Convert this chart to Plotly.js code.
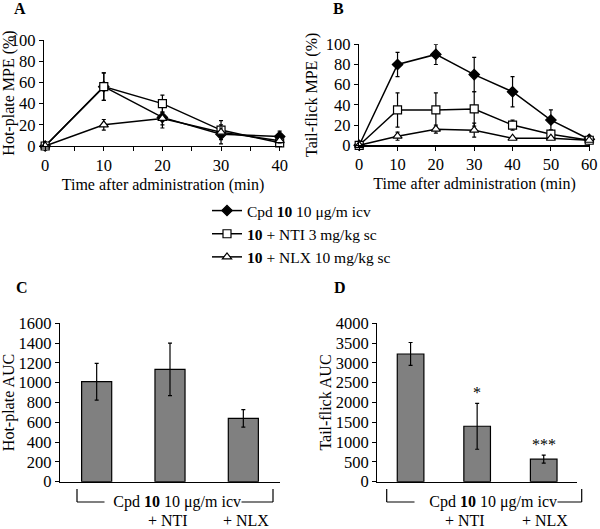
<!DOCTYPE html>
<html>
<head>
<meta charset="utf-8">
<script src="https://cdn.plot.ly/plotly-3.0.1.min.js"></script>
<style>
  html, body { margin: 0; padding: 0; background: #fff; }
  #myGraph { width: 600px; height: 529px; }
</style>
</head>
<body>
<div id="myGraph"></div>
<script>
// time points (min)
let timeA = [0, 10, 20, 30, 40];
let timeB = [0, 10, 20, 30, 40, 50, 60];

// A: hot-plate MPE (%)
let hpCpd = [0, 56, 27, 11, 9];
let hpCpdErr = [0, 13, 10, 9, 5];
let hpNti = [0, 56, 40, 15, 3];
let hpNtiErr = [0, 13, 8, 9, 2];
let hpNlx = [0, 20, 26, 13, 5];
let hpNlxErr = [0, 5, 6, 4, 2];

// B: tail-flick MPE (%)
let tfCpd = [0, 80, 90, 70, 53, 25, 6];
let tfCpdErr = [0, 12, 10, 17, 15, 10, 3];
let tfNti = [0, 35, 35, 36, 20, 11, 5];
let tfNtiErr = [0, 17, 17, 17, 5, 4, 2];
let tfNlx = [0, 9, 16, 15, 7, 7, 5];
let tfNlxErr = [0, 4, 4, 7, 1, 1, 1];

// C / D: AUC
let groups = ['Cpd 10', '+ NTI', '+ NLX'];
let hpAuc = [1010, 1135, 640];
let hpAucErr = [185, 265, 88];
let tfAuc = [3225, 1400, 570];
let tfAucErr = [290, 580, 100];

let seriesNames = [
    'Cpd <b>10</b> 10 \u03bcg/m icv',
    '<b>10</b> + NTI 3 mg/kg sc',
    '<b>10</b> + NLX 10 mg/kg sc'
];

let serif = '"Liberation Serif", "Times New Roman", serif';
let W = 600, H = 529;
function px(x) { return x / W; }
function py(y) { return 1 - y / H; }

// 一條線的樣式
function lineTrace(x, y, err, name, sym, xa, ya, legend) {
    let filled = sym === 'diamond';
    return {
        type: 'scatter',
        mode: 'lines+markers',
        x: x,
        y: y,
        name: name,
        xaxis: xa,
        yaxis: ya,
        showlegend: legend,
        cliponaxis: false,
        line: { color: '#000', width: 1.5 },
        marker: {
            symbol: sym,
            size: 8,
            color: filled ? '#000' : '#fff',
            line: { color: '#000', width: 1.2 }
        },
        error_y: { type: 'data', array: err, color: '#000', thickness: 1.2, width: 2 }
    };
}

function barTrace(y, err, xa, ya, w) {
    return {
        type: 'bar',
        x: groups,
        y: y,
        xaxis: xa,
        yaxis: ya,
        width: w,
        showlegend: false,
        marker: { color: '#808080', line: { color: '#000', width: 1.2 } },
        error_y: { type: 'data', array: err, color: '#000', thickness: 1.2, width: 2 }
    };
}

let data = [];
data.push(lineTrace(timeA, hpCpd, hpCpdErr, seriesNames[0], 'diamond', 'x', 'y', true));
data.push(lineTrace(timeA, hpNti, hpNtiErr, seriesNames[1], 'square', 'x', 'y', true));
data.push(lineTrace(timeA, hpNlx, hpNlxErr, seriesNames[2], 'triangle-up', 'x', 'y', true));
data.push(lineTrace(timeB, tfCpd, tfCpdErr, seriesNames[0], 'diamond', 'x2', 'y2', false));
data.push(lineTrace(timeB, tfNti, tfNtiErr, seriesNames[1], 'square', 'x2', 'y2', false));
data.push(lineTrace(timeB, tfNlx, tfNlxErr, seriesNames[2], 'triangle-up', 'x2', 'y2', false));
data.push(barTrace(hpAuc, hpAucErr, 'x3', 'y3', 0.41));
data.push(barTrace(tfAuc, tfAucErr, 'x4', 'y4', 0.4));

let axisBase = {
    showline: true,
    linecolor: '#000',
    linewidth: 1.2,
    showgrid: false,
    zeroline: false,
    ticks: 'outside',
    ticklen: 4,
    tickcolor: '#000',
    tickwidth: 1,
    automargin: false,
    tickfont: { family: serif, size: 16.5, color: '#000' }
};
function ax(extra) { return Object.assign({}, axisBase, extra); }

let titleFont = { family: serif, size: 16, color: '#000' };

let layout = {
    width: W,
    height: H,
    margin: { l: 0, r: 0, t: 0, b: 0 },
    paper_bgcolor: '#fff',
    plot_bgcolor: 'rgba(0,0,0,0)',
    font: { family: serif, size: 16, color: '#000' },
    xaxis: ax({
        domain: [px(44), px(282)], range: [-0.2, 40.4], anchor: 'y',
        tickvals: [0, 10, 20, 30, 40],
        minor: { dtick: 5, tick0: 0, ticks: 'outside', ticklen: 4, tickcolor: '#000' },
        title: { text: 'Time after administration (min)', font: titleFont, standoff: 4 }
    }),
    yaxis: ax({
        domain: [py(146), py(40)], range: [0, 100], anchor: 'x', dtick: 20,
        title: { text: 'Hot-plate MPE (%)', font: titleFont }
    }),
    xaxis2: ax({
        domain: [px(359), px(590)], range: [-0.05, 60.2], anchor: 'y2',
        tickvals: [0, 10, 20, 30, 40, 50, 60],
        title: { text: 'Time after administration (min)', font: titleFont, standoff: 4 }
    }),
    yaxis2: ax({
        domain: [py(145.3), py(44.3)], range: [0, 100], anchor: 'x2', dtick: 20,
        title: { text: 'Tail-flick MPE (%)', font: titleFont }
    }),
    xaxis3: ax({
        domain: [px(60), px(280)], range: [-0.5, 2.5], anchor: 'y3',
        ticks: '', showticklabels: false
    }),
    yaxis3: ax({
        domain: [py(481.7), py(323.3)], range: [0, 1600], anchor: 'x3', dtick: 200,
        title: { text: 'Hot-plate AUC', font: titleFont }
    }),
    xaxis4: ax({
        domain: [px(377.3), px(577)], range: [-0.5, 2.5], anchor: 'y4',
        ticks: '', showticklabels: false
    }),
    yaxis4: ax({
        domain: [py(481.7), py(323.3)], range: [0, 4000], anchor: 'x4', dtick: 500,
        title: { text: 'Tail-flick AUC', font: titleFont }
    }),
    legend: {
        x: px(207), y: py(194), xanchor: 'left', yanchor: 'top',
        bgcolor: 'rgba(0,0,0,0)',
        font: { family: serif, size: 15.5, color: '#000' },
        itemwidth: 30,
        tracegroupgap: 0
    },
    shapes: [],
    annotations: []
};

// 面板字母
[['A', 20, 8], ['B', 339, 8], ['C', 22, 287], ['D', 340, 287]].forEach(function (p) {
    layout.annotations.push({
        xref: 'paper', yref: 'paper', x: px(p[1]), y: py(p[2]),
        xanchor: 'center', yanchor: 'middle', showarrow: false,
        text: '<b>' + p[0] + '</b>', font: { family: serif, size: 16, color: '#000' }
    });
});

// 長條圖下方的括號
function bracket(x0, x1, boxRight, boxW, ntiX, nlxX) {
    let lineStyle = { color: '#000', width: 1.2 };
    layout.shapes.push({ type: 'line', xref: 'paper', yref: 'paper', x0: px(x0), x1: px(x0), y0: py(489), y1: py(502), line: lineStyle });
    layout.shapes.push({ type: 'line', xref: 'paper', yref: 'paper', x0: px(x0), x1: px(x1), y0: py(502), y1: py(502), line: lineStyle });
    layout.shapes.push({ type: 'line', xref: 'paper', yref: 'paper', x0: px(x1), x1: px(x1), y0: py(502), y1: py(489), line: lineStyle });
    layout.annotations.push({
        xref: 'paper', yref: 'paper', x: px(boxRight), y: py(502),
        xanchor: 'right', yanchor: 'middle', showarrow: false,
        width: boxW, align: 'right', bgcolor: '#fff', borderpad: 0,
        text: 'Cpd <b>10</b> 10 \u03bcg/m icv', font: { family: serif, size: 16, color: '#000' }
    });
    layout.annotations.push({
        xref: 'paper', yref: 'paper', x: px(ntiX), y: py(520),
        xanchor: 'center', yanchor: 'middle', showarrow: false,
        text: groups[1], font: { family: serif, size: 16, color: '#000' }
    });
    layout.annotations.push({
        xref: 'paper', yref: 'paper', x: px(nlxX), y: py(520),
        xanchor: 'center', yanchor: 'middle', showarrow: false,
        text: groups[2], font: { family: serif, size: 16, color: '#000' }
    });
}
bracket(77, 273, 242, 136, 167.5, 245.5);
bracket(386.7, 581.7, 558, 142, 465, 544.7);

// 顯著性星號
let stars = ['', '*', '***'];
stars.forEach(function (s, i) {
    if (!s) return;
    layout.annotations.push({
        xref: 'x4', yref: 'y4', x: groups[i], y: tfAuc[i] + tfAucErr[i],
        xanchor: 'center', yanchor: 'bottom', showarrow: false, yshift: 0,
        text: s, font: { family: serif, size: 16, color: '#000' }
    });
});

Plotly.newPlot(document.getElementById('myGraph'), data, layout, { staticPlot: true });
</script>
</body>
</html>
